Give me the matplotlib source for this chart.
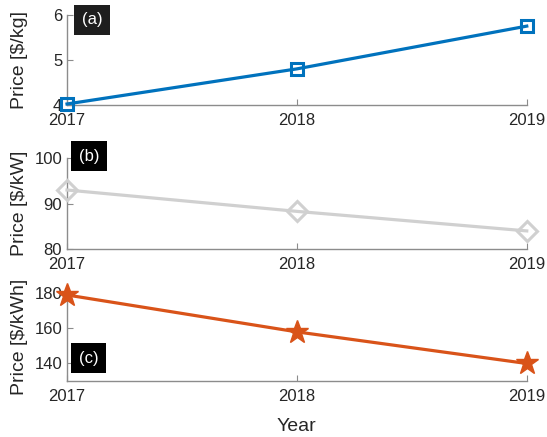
import matplotlib
matplotlib.use('agg')
import matplotlib.pyplot as plt

plt.rcParams["font.family"] = ["Liberation Sans", "DejaVu Sans"]
plt.rcParams.update({'font.size': 12})

# Data
years = [2017, 2018, 2019]
price_kg = [4.02, 4.8, 5.75]
price_kw = [93.0, 88.3, 84.0]
price_kwh = [179.0, 158.0, 140.0]

tag_labels = ['(a)', '(b)', '(c)']
y_labels = ['Price [$/kg]', 'Price [$/kW]', 'Price [$/kWh]']

spine_col = '#8c8c8c'
text_col = '#262626'

fig = plt.figure(figsize=(5.47, 4.37), dpi=100)
left, width = 0.1225, 0.8405
ax_a = fig.add_axes([left, 0.760, width, 0.206])
ax_b = fig.add_axes([left, 0.430, width, 0.208])
ax_c = fig.add_axes([left, 0.128, width, 0.201])

ax_a.plot(years, price_kg, color='#0072BD', linewidth=2.3, marker='s',
          markersize=9, markerfacecolor='none', markeredgewidth=2.2, clip_on=False, zorder=5)
ax_b.plot(years, price_kw, color='#D0D0D0', linewidth=2.3, marker='D',
          markersize=10, markerfacecolor='none', markeredgewidth=2.2, clip_on=False, zorder=5)
ax_c.plot(years, price_kwh, color='#D95319', linewidth=2.3, marker='*',
          markersize=17, clip_on=False, zorder=5)

ax_a.set_ylim(4, 6)
ax_a.set_yticks([4, 5, 6])
ax_b.set_ylim(80, 100)
ax_b.set_yticks([80, 90, 100])
ax_c.set_ylim(130, 180)
ax_c.set_yticks([140, 160, 180])

for ax, ylab in zip([ax_a, ax_b, ax_c], y_labels):
    ax.set_xlim(2017, 2019)
    ax.set_xticks(years)
    ax.set_xticklabels([str(y) for y in years])
    for s in ['top', 'right']:
        ax.spines[s].set_visible(False)
    for s in ['left', 'bottom']:
        ax.spines[s].set_color(spine_col)
        ax.spines[s].set_linewidth(1.0)
    ax.tick_params(direction='in', length=4, color=spine_col, labelcolor=text_col,
                   labelsize=12)
    ax.tick_params(axis='x', pad=6)
    ax.set_ylabel(ylab, fontsize=14, color=text_col)
    ax.yaxis.set_label_coords(-0.084, 0.5)

ax_c.set_xlabel('Year', fontsize=14, color=text_col, labelpad=10)

# panel tags
box_a = dict(boxstyle='square,pad=0.45', facecolor='#1e1e1e', edgecolor='none')
box_bc = dict(boxstyle='square,pad=0.45', facecolor='black', edgecolor='none')
ax_a.text(0.054, 0.944, tag_labels[0], transform=ax_a.transAxes, color='white',
          fontsize=12, ha='center', va='center', bbox=box_a)
ax_b.text(0.048, 1.02, tag_labels[1], transform=ax_b.transAxes, color='white',
          fontsize=12, ha='center', va='center', bbox=box_bc)
ax_c.text(0.047, 0.26, tag_labels[2], transform=ax_c.transAxes, color='white',
          fontsize=12, ha='center', va='center', bbox=box_bc)

fig.savefig('out.png', dpi=100)
